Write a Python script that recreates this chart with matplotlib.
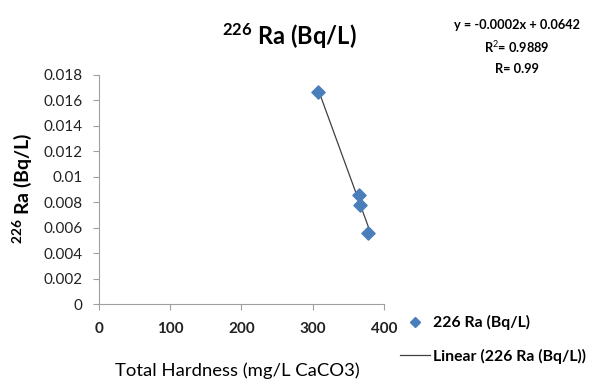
import matplotlib.pyplot as plt
import numpy as np
from matplotlib.lines import Line2D

# data
hardness = [308, 365, 367, 378]          # Total Hardness (mg/L CaCO3)
ra226 = [0.0167, 0.0086, 0.0078, 0.0056]  # 226Ra (Bq/L)

x_ticks = [0, 100, 200, 300, 400]
y_ticks = [0, 0.002, 0.004, 0.006, 0.008, 0.01, 0.012, 0.014, 0.016, 0.018]
y_tick_labels = ["0", "0.002", "0.004", "0.006", "0.008", "0.01",
                 "0.012", "0.014", "0.016", "0.018"]

equation_lines = ["y = -0.0002x + 0.0642", "R$^{2}$= 0.9889", "R= 0.99"]
legend_labels = ["226 Ra (Bq/L)", "Linear (226 Ra (Bq/L))"]

plt.rcParams["font.family"] = ["Lato", "DejaVu Sans"]
plt.rcParams["mathtext.fontset"] = "custom"
plt.rcParams["mathtext.rm"] = "Lato"
plt.rcParams["mathtext.bf"] = "Lato:bold"

fig = plt.figure(figsize=(5.94, 3.81), dpi=100)
ax = fig.add_axes([99 / 594, 77 / 381, 285 / 594, 229 / 381])

blue = "#4a7ebb"
ax.scatter(hardness, ra226, marker="D", s=45, color=blue, zorder=3)

# linear trendline over the data range
slope, intercept = np.polyfit(hardness, ra226, 1)
xs = np.array([min(hardness), max(hardness)])
ax.plot(xs, slope * xs + intercept, color="#404040", linewidth=0.9, zorder=2)

ax.set_xlim(0, 400)
ax.set_ylim(0, 0.018)
ax.set_xticks(x_ticks)
ax.set_xticklabels([str(t) for t in x_ticks], fontweight="bold")
ax.set_yticks(y_ticks)
ax.set_yticklabels(y_tick_labels)
ax.tick_params(axis="both", direction="out", length=4, color="#a0a0a0",
               labelsize=11, labelcolor="#222222")
ax.tick_params(axis="x", pad=9)
ax.tick_params(axis="y", pad=8)
for side in ["top", "right"]:
    ax.spines[side].set_visible(False)
for side in ["left", "bottom"]:
    ax.spines[side].set_color("#a0a0a0")

fig.text(237 / 594, 1 - 371 / 381, "Total Hardness (mg/L CaCO3)",
         fontsize=13.3, ha="center", va="center")
fig.text(22 / 594, 1 - 188 / 381, r"$\mathbf{^{226}}$ Ra (Bq/L)", fontsize=14,
         fontweight="bold", rotation=90, ha="center", va="center")

fig.text(289 / 594, 1 - 36 / 381, r"$\mathbf{^{226}}$ Ra (Bq/L)", fontsize=17,
         fontweight="bold", ha="center", va="center")
for i, line in enumerate(equation_lines):
    fig.text(0.87, 0.935 - i * 0.058, line, fontsize=9.2, fontweight="bold",
             ha="center", va="center")

handles = [
    Line2D([], [], marker="D", linestyle="none", color=blue, markersize=5.5),
    Line2D([], [], color="#404040", linewidth=0.9),
]
fig.legend(handles, legend_labels,
           loc="upper left", bbox_to_anchor=(400 / 594, 1 - 315 / 381),
           frameon=False, prop={"weight": "bold", "size": 11.3},
           labelspacing=1.2, handlelength=1.9, handletextpad=0.2,
           borderaxespad=0, borderpad=0)

fig.savefig("out.png", dpi=100)
